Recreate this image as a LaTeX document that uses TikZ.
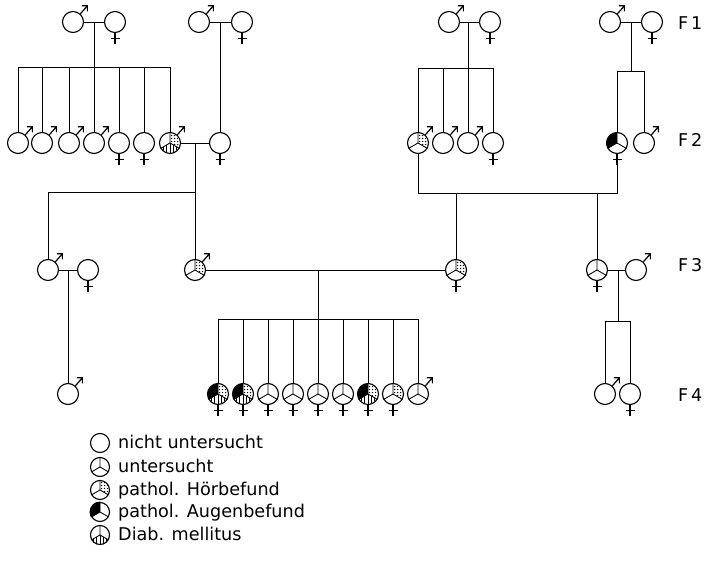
\documentclass[tikz,border=0pt]{standalone}
\usepackage{fontspec}
\setmainfont{DejaVu Sans}
\newcommand\pmale[1]{\draw[line width=1.2pt,line cap=butt] (#1.48) -- ++(7,-8) ++(-5.5,0) -- ++(5.5,0) -- ++(0,5.5);}
\newcommand\pfemale[1]{\draw[line width=1.2pt] (#1.south) -- ++(0,11) (#1.south) ++(-4.5,5.5) -- ++(9,0);}
\newcommand\pexam[1]{\draw[line width=0.85pt] (#1.center) -- (#1.90) (#1.center) -- (#1.210) (#1.center) -- (#1.330);}
\newcommand\phoer[1]{\begin{scope}[shift={(#1.center)}]
 \clip (0,0) -- (90:20pt) -- (30:25pt) -- (-30:20pt) -- cycle;
 \clip (0,0) circle (9.4pt);
 \foreach \i in {-4,...,4}{\foreach \j in {-4,...,4}{\fill (\i*3pt+1.6pt,\j*3pt+1.5pt) circle (0.65pt);}}
\end{scope}}
\newcommand\paug[1]{\begin{scope}[shift={(#1.center)}]
 \clip (0,0) -- (90:20pt) -- (150:25pt) -- (210:20pt) -- cycle;
 \fill (0,0) circle (10.5pt);
\end{scope}}
\newcommand\pdiab[1]{\begin{scope}[shift={(#1.center)}]
 \clip (0,0) -- (210:20pt) -- (270:25pt) -- (330:20pt) -- cycle;
 \clip (0,0) circle (10pt);
 \foreach \i in {-3,...,3}{\draw[line width=0.55pt] (\i*3.3pt,-12pt) -- (\i*3.3pt,12pt);}
\end{scope}}
\begin{document}
\begin{tikzpicture}[x=1pt,y=-1pt,
  pers/.style={circle,draw,line width=1.1pt,minimum size=21pt,inner sep=0pt},
  lpers/.style={pers,minimum size=19pt},
  con/.style={line width=0.95pt},
  lab/.style={anchor=base west,font=\fontsize{17.6}{20}\selectfont,inner sep=0pt},
]
\useasboundingbox (0,0) rectangle (705,562);

% ---------- F1
\node[pers] (A1m) at (73,22) {};
\node[pers] (A1f) at (115,22) {};
\node[pers] (B1m) at (199,22) {};
\node[pers] (B1f) at (242,22) {};
\node[pers] (C1m) at (449,22) {};
\node[pers] (C1f) at (490,22) {};
\node[pers] (D1m) at (610,22) {};
\node[pers] (D1f) at (652,22) {};
\foreach \n in {A1m,B1m,C1m,D1m} {\pmale{\n}}
\foreach \n in {A1f,B1f,C1f,D1f} {\pfemale{\n}}

% ---------- F2
\node[pers] (a1) at (18,143) {};
\node[pers] (a2) at (42,143) {};
\node[pers] (a3) at (69,143) {};
\node[pers] (a4) at (94,143) {};
\node[pers] (a5) at (119,143) {};
\node[pers] (a6) at (144,143) {};
\node[pers] (a7) at (170,143) {};
\node[pers] (b1) at (220,143) {};
\node[pers] (k1) at (418,143) {};
\node[pers] (k2) at (443,143) {};
\node[pers] (k3) at (468,143) {};
\node[pers] (k4) at (493,143) {};
\node[pers] (d1) at (617,143) {};
\node[pers] (d2) at (644,143) {};
\phoer{a7}\pdiab{a7}\pexam{a7}
\phoer{k1}\pexam{k1}
\paug{d1}\pexam{d1}
\foreach \n in {a1,a2,a3,a4,a7,k1,k2,k3,d2} {\pmale{\n}}
\foreach \n in {a5,a6,b1,k4,d1} {\pfemale{\n}}

% ---------- F3
\node[pers] (e0) at (48,270) {};
\node[pers] (e0f) at (88,270) {};
\node[pers] (e1) at (195,270) {};
\node[pers] (e2) at (456,270) {};
\node[pers] (e3) at (597,270) {};
\node[pers] (e3m) at (636,270) {};
\phoer{e1}\pexam{e1}
\phoer{e2}\pexam{e2}
\pexam{e3}
\foreach \n in {e0,e1,e3m} {\pmale{\n}}
\foreach \n in {e0f,e2,e3} {\pfemale{\n}}

% ---------- F4
\node[pers] (g1) at (68,394) {};
\foreach \i in {1,...,9} {\node[pers] (f\i) at (193+25*\i,394) {};}
\node[pers] (h1) at (605,394) {};
\node[pers] (h2) at (630,394) {};
\foreach \n in {f1,f2,f7} {\paug{\n}\phoer{\n}\pdiab{\n}}
\phoer{f8}
\foreach \n in {f1,f2,f3,f4,f5,f6,f7,f8,f9} {\pexam{\n}}
\foreach \n in {g1,f9,h1} {\pmale{\n}}
\foreach \n in {f1,f2,f3,f4,f5,f6,f7,f8,h2} {\pfemale{\n}}

% ---------- connectors
\coordinate (c1) at (94,22);  \coordinate (s1) at (94,67);
\coordinate (c2) at (220,22);
\coordinate (c3) at (468,22); \coordinate (s3) at (468,68);
\coordinate (c4) at (631,22); \coordinate (s4) at (631,71);
\coordinate (c5) at (195,143); \coordinate (s5) at (195,192);
\coordinate (m1) at (418,193); \coordinate (m2) at (617,193);
\coordinate (c6) at (318,270); \coordinate (s6) at (318,319);
\coordinate (c7) at (68,270);
\coordinate (c8) at (618,270); \coordinate (s8) at (618,321);

\draw[con] (A1m) -- (A1f) (B1m) -- (B1f) (C1m) -- (C1f) (D1m) -- (D1f);
\draw[con] (c1) -- (s1);
\foreach \n in {a1,a2,a3,a4,a5,a6,a7} {\draw[con] (s1) -| (\n);}
\draw[con] (c2) -- (b1);
\draw[con] (c3) -- (s3);
\foreach \n in {k1,k2,k3,k4} {\draw[con] (s3) -| (\n);}
\draw[con] (c4) -- (s4);
\foreach \n in {d1,d2} {\draw[con] (s4) -| (\n);}

\draw[con] (a7) -- (b1);
\draw[con] (c5) -- (e1);
\draw[con] (s5) -| (e0);
\draw[con] (k1) -- (m1) -- (m2) -- (d1);
\draw[con] (e2 |- m1) -- (e2);
\draw[con] (e3 |- m1) -- (e3);

\draw[con] (e0) -- (e0f);
\draw[con] (c7) -- (g1);
\draw[con] (e1) -- (e2);
\draw[con] (c6) -- (s6);
\foreach \i in {1,...,9} {\draw[con] (s6) -| (f\i);}
\draw[con] (e3) -- (e3m);
\draw[con] (c8) -- (s8);
\foreach \n in {h1,h2} {\draw[con] (s8) -| (\n);}

% ---------- generation labels
\node[lab] (L1) at (678,29.5) {F\,1};
\node[lab] (L2) at (678,146.5) {F\,2};
\node[lab] (L3) at (678,271.5) {F\,3};
\node[lab] (L4) at (678,401.5) {F\,4};

% ---------- legend
\node[lpers] (l1) at (100,443) {};
\node[lpers] (l2) at (100,467) {};
\node[lpers] (l3) at (100,490) {};
\node[lpers] (l4) at (100,512) {};
\node[lpers] (l5) at (100,535) {};
\pexam{l2}
\phoer{l3}\pexam{l3}
\paug{l4}\pexam{l4}
\pdiab{l5}\pexam{l5}
\node[lab] (t1) at (118,448.5) {nicht untersucht};
\node[lab] (t2) at (118,472.5) {untersucht};
\node[lab] (t3) at (118,495.5) {pathol. Hörbefund};
\node[lab] (t4) at (118,517.5) {pathol. Augenbefund};
\node[lab] (t5) at (118,540.5) {Diab. mellitus};
\end{tikzpicture}
\end{document}
